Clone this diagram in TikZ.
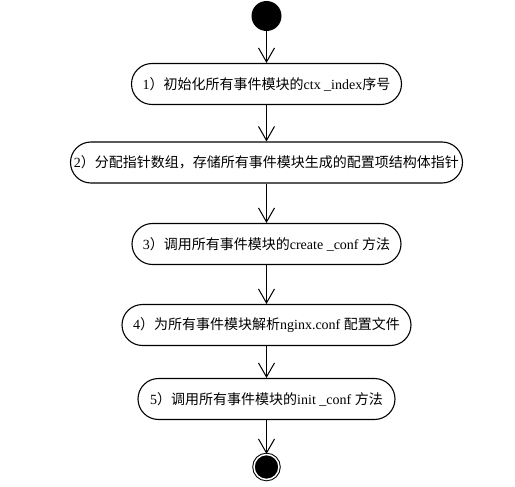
\documentclass[tikz,border=0pt]{standalone}
\usepackage{fontspec}
\setmainfont{Liberation Serif}
\newfontfamily\cjk{Noto Sans CJK SC}
\usetikzlibrary{arrows.meta}
\begin{document}
\begin{tikzpicture}[x=1pt,y=-1pt,
  act/.style={draw,line width=1.1pt,rounded corners=20.5pt,minimum height=41pt,inner sep=0pt,font=\fontsize{14}{16}\selectfont},
  flow/.style={draw,line width=1pt,-{Straight Barb[length=14pt,width=16pt,line width=1pt]}},
  startdot/.style={circle,fill=black,minimum size=30pt,inner sep=0pt},
  enddot/.style={circle,draw,line width=1pt,fill=black,double=white,double distance=1.5pt,minimum size=25pt,inner sep=0pt}]
\useasboundingbox (0,0) rectangle (515,487);
\node[startdot] (s) at (266.5,16) {};
\node[act,minimum width=270pt] (a1) at (266.5,84) {1{\cjk ）初始化所有事件模块的}ctx \_index{\cjk 序号}};
\node[act,minimum width=392pt] (a2) at (266.5,162.5) {2{\cjk ）分配指针数组，存储所有事件模块生成的配置项结构体指针}};
\node[act,minimum width=269pt] (a3) at (266.5,244) {3{\cjk ）调用所有事件模块的}create \_conf {\cjk 方法}};
\node[act,minimum width=289pt] (a4) at (266.5,325) {4{\cjk ）为所有事件模块解析}nginx.conf {\cjk 配置文件}};
\node[act,minimum width=257pt] (a5) at (266.5,399) {5{\cjk ）调用所有事件模块的}init \_conf {\cjk 方法}};
\node[enddot] (e) at (266.5,467) {};
\draw[flow] (s) -- (a1);
\draw[flow] (a1) -- (a2);
\draw[flow] (a2) -- (a3);
\draw[flow] (a3) -- (a4);
\draw[flow] (a4) -- (a5);
\draw[flow] (a5) -- (e);
\end{tikzpicture}
\end{document}
